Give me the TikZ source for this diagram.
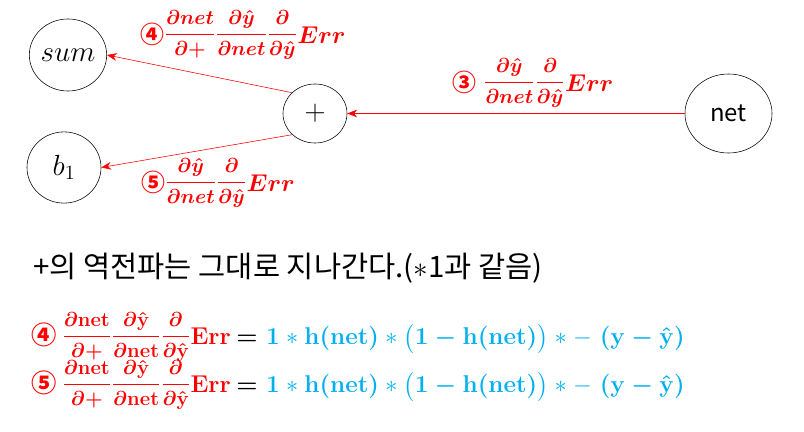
\documentclass[tikz,border=0pt]{standalone}
\usepackage{amsmath}
\usepackage{bm}
\usepackage{fontspec}
\setmainfont{Noto Sans CJK KR}
\usepackage{tikz}
\usetikzlibrary{shapes.geometric, positioning, arrows.meta}
\definecolor{gradred}{RGB}{255,0,0}
\definecolor{valblue}{RGB}{0,176,240}
\newcommand{\thinop}[1]{\mbox{\unboldmath$#1$}}
\newcommand{\gfrac}[3][14]{\raisebox{2.2pt}{\fontsize{#1}{16}\selectfont$\dfrac{#2}{#3}$}}
\tikzset{>={Stealth[length=7pt, width=5.5pt]}, line width=0.6pt,
neuron/.style={draw, ellipse, inner sep=0pt, font=\fontsize{20}{24}\selectfont},
back/.style={->, gradred},
grad/.style={text=gradred, inner sep=0pt, font=\fontsize{17}{20}\selectfont\bfseries\boldmath},
eqn/.style={anchor=base west, inner sep=0pt, font=\fontsize{18}{21}\selectfont\bfseries\boldmath},
}

\begin{document}
\begin{tikzpicture}[x=0.025cm, y=-0.025cm]
            \useasboundingbox (0,0) rectangle (804,432);
            \node[neuron, minimum width=1.8cm, minimum height=1.8cm](sum) at (68,55) {$sum$};
            \node[neuron, minimum width=1.85cm, minimum height=1.78cm](b1) at (64,167.5) {$b_1$};
            \node[neuron, minimum width=1.6cm, minimum height=1.475cm, font=\fontsize{22}{24}\selectfont](plus) at (315,113.5) {$+$};
            \node[neuron, minimum width=2.175cm, minimum height=1.975cm, font=\fontsize{17}{20}\selectfont](net) at (728.5,113.5) {net};

            \draw (plus.138) edge[back] (sum.east)
                (plus.223) edge[back] (b1.east)
                (net.west) edge[back] (plus.east)
                ;

            \node[grad](g4) at (243,35) {④\gfrac[13.5]{\partial net}{\partial{+}}\gfrac[13.5]{\partial\hat{y}}{\partial net}\gfrac[13.5]{\partial}{\partial\hat{y}}$Err$};
            \node[grad](g3) at (533,83) {③\hspace{5pt}\gfrac[13.5]{\partial\hat{y}}{\partial net}\gfrac[13.5]{\partial}{\partial\hat{y}}$Err$};
            \node[grad](g5) at (218,183) {⑤\gfrac[13.5]{\partial\hat{y}}{\partial net}\gfrac[13.5]{\partial}{\partial\hat{y}}$Err$};

            \node[anchor=west, inner sep=0pt, font=\fontsize{21}{25}\selectfont](note) at (33,268) {+의 역전파는 그대로 지나간다.($\ast$1과 같음)};

            \node[eqn](row4) at (31,345) {\textcolor{gradred}{④\hspace{4pt}\gfrac{\partial\mathbf{net}}{\partial{+}}\gfrac{\partial\hat{\mathbf{y}}}{\partial\mathbf{net}}\gfrac{\partial}{\partial\hat{\mathbf{y}}}$\mathbf{Err}$}\hspace{4pt}$=$\hspace{6pt}\textcolor{valblue}{$\mathbf{1}\mathbin{\thinop{\ast}}\mathbf{h}(\mathbf{net})\mathbin{\thinop{\ast}}\bigl(\mathbf{1}-\mathbf{h}(\mathbf{net})\bigr)\mathbin{\thinop{\ast}}\thinop{-}\;(\mathbf{y}-\hat{\mathbf{y}})$}};
            \node[eqn](row5) at (31,393) {\textcolor{gradred}{⑤\hspace{4pt}\gfrac{\partial\mathbf{net}}{\partial{+}}\gfrac{\partial\hat{\mathbf{y}}}{\partial\mathbf{net}}\gfrac{\partial}{\partial\hat{\mathbf{y}}}$\mathbf{Err}$}\hspace{4pt}$=$\hspace{6pt}\textcolor{valblue}{$\mathbf{1}\mathbin{\thinop{\ast}}\mathbf{h}(\mathbf{net})\mathbin{\thinop{\ast}}\bigl(\mathbf{1}-\mathbf{h}(\mathbf{net})\bigr)\mathbin{\thinop{\ast}}\thinop{-}\;(\mathbf{y}-\hat{\mathbf{y}})$}};
        \end{tikzpicture}
\end{document}
